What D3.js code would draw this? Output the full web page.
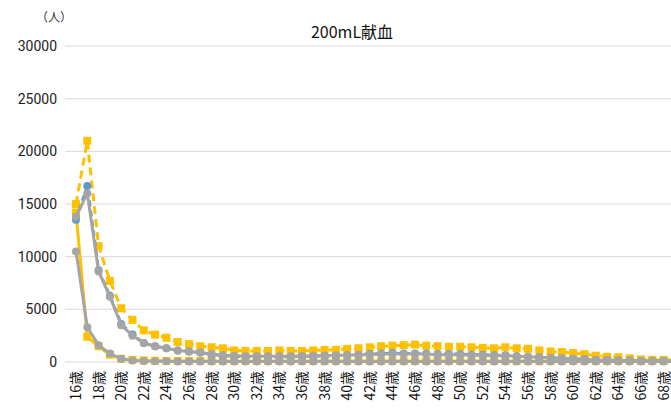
<!DOCTYPE html>
<html><head><meta charset="utf-8">
<script src="https://cdn.jsdelivr.net/npm/d3@7"></script>
<style>body{margin:0;background:#fff;font-family:"Noto Sans CJK JP",sans-serif}</style>
</head><body><svg id="c" width="671" height="408"></svg>
<script>
var ages = d3.range(16, 70);
var yTicks = [0, 5000, 10000, 15000, 20000, 25000, 30000];
var yellowDash = [15000,21000,11000,7700,5100,4000,3000,2600,2300,1900,1700,1500,1400,1300,1100,1050,1050,1050,1100,1050,1050,1100,1150,1150,1250,1300,1400,1500,1550,1600,1650,1550,1500,1450,1450,1400,1350,1300,1400,1300,1250,1100,1000,950,850,750,600,500,450,350,250,200,200,200];
var yellowSolid = [14200,2400,1500,700,300,200,150,120,100,100,100,100,100,100,100,100,100,100,100,100,100,100,100,100,100,100,100,100,100,100,100,100,100,100,100,100,100,100,100,100,100,100,100,100,100,100,100,100,100,100,100,100,100,100];
var blue = [13500,16700,8700,6300,3600,2600,1800,1500,1300,1100,1000,900,700,600,550,500,500,500,500,500,550,550,600,600,650,700,750,800,850,800,800,800,750,750,750,700,700,650,650,550,500,450,400,350,300,250,200,200,150,150,100,100,100,100];
var grayA = [13800,16000,8600,6200,3500,2500,1800,1500,1300,1100,1000,900,750,650,600,550,550,550,550,550,550,600,600,650,650,700,700,750,750,750,750,750,700,700,700,650,650,600,600,550,500,450,400,350,300,250,200,200,150,150,100,100,100,100];
var grayB = [10500,3300,1600,800,300,150,100,80,60,50,50,50,50,50,50,50,50,50,50,50,50,50,50,50,50,50,50,50,50,50,50,50,50,50,50,50,50,50,50,50,50,50,50,50,50,50,50,50,50,50,50,50,50,50];

var svg = d3.select('#c');
var x = d3.scalePoint().domain(ages).range([76, 76 + 53 * 11.3]);
var y = d3.scaleLinear().domain([0, 30000]).range([362, 46]);

svg.append('g').selectAll('line').data(yTicks).enter().append('line')
  .attr('x1', 65).attr('x2', 671).attr('y1', d => y(d)).attr('y2', d => y(d))
  .attr('stroke', '#d9d9d9').attr('stroke-width', 1);
svg.append('g').selectAll('text').data(yTicks).enter().append('text')
  .attr('x', 57).attr('y', d => y(d) + 5).attr('text-anchor', 'end')
  .attr('font-size', 14).attr('font-family', 'Roboto, sans-serif').attr('fill', '#222').text(d => d);
svg.append('text').attr('x', 36).attr('y', 22).attr('font-size', 12).attr('fill', '#333').text('（人）');
svg.append('text').attr('x', 352).attr('y', 38).attr('text-anchor', 'middle')
  .attr('font-size', 16).attr('fill', '#111').text('200mL献血');

svg.append('g').selectAll('text').data(ages.filter(a => a % 2 == 0)).enter().append('text')
  .attr('transform', d => 'translate(' + (x(d) + 5) + ',371) rotate(-90)')
  .attr('text-anchor', 'end').attr('font-size', 14).attr('fill', '#111').text(d => d + '歳');

var line = d3.line().x((d, i) => x(ages[i])).y(d => y(d));
function series(data, color, dash, shape) {
  svg.append('path').datum(data).attr('d', line).attr('fill', 'none')
    .attr('stroke', color).attr('stroke-width', 3).attr('stroke-dasharray', dash);
  var g = svg.append('g');
  if (shape == 'sq') {
    g.selectAll('rect').data(data).enter().append('rect')
      .attr('x', (d, i) => x(ages[i]) - 4).attr('y', d => y(d) - 4)
      .attr('width', 8).attr('height', 8).attr('fill', color);
  } else if (shape == 'ci') {
    g.selectAll('circle').data(data).enter().append('circle')
      .attr('cx', (d, i) => x(ages[i])).attr('cy', d => y(d)).attr('r', 4).attr('fill', color);
  }
}
series(yellowSolid, '#ffc000', null, 'sq');
series(yellowDash, '#ffc000', '8,5', 'sq');
series(blue, '#5b9bd5', '6,4', 'ci');
series(grayA, '#a5a5a5', null, 'ci');
series(grayB, '#a5a5a5', null, 'ci');
</script></body></html>
